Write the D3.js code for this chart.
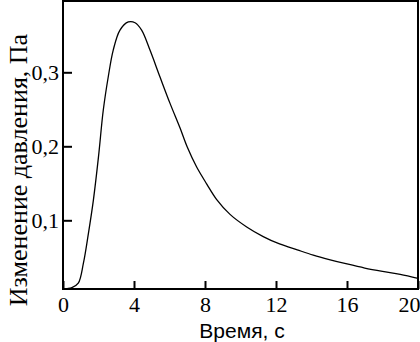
<!DOCTYPE html>
<html>
<head>
<meta charset="utf-8">
<script src="https://cdn.jsdelivr.net/npm/d3@7"></script>
<style>
html,body{margin:0;padding:0;background:#fff;}
svg{display:block;}
.serif{font-family:"Liberation Serif","Times New Roman",Times,"DejaVu Serif",serif;}
.sans{font-family:"Liberation Sans",Arial,"DejaVu Sans",sans-serif;}
</style>
</head>
<body>
<svg id="chart" width="420" height="342"></svg>
<script>
const timeSec = [0, 0.5, 0.86, 1.15, 1.43, 1.71, 2.0, 2.27, 2.55, 2.83, 3.21, 3.68, 4.06, 4.43, 4.9, 5.46, 6.03, 6.59, 7.0, 7.53, 8.1, 8.66, 9.41, 10.35, 11.28, 12.2, 13.2, 14.1, 15.0, 16.0, 17.0, 18.0, 19.0, 20.0];
const pressure = [0.007, 0.009, 0.015, 0.042, 0.082, 0.127, 0.186, 0.249, 0.294, 0.330, 0.357, 0.368, 0.367, 0.357, 0.330, 0.294, 0.258, 0.225, 0.199, 0.172, 0.149, 0.128, 0.108, 0.091, 0.078, 0.068, 0.060, 0.053, 0.047, 0.041, 0.0355, 0.031, 0.027, 0.0216];
const xTicks = [0, 4, 8, 12, 16, 20];
const yTicks = [0.1, 0.2, 0.3];
const xTitle = "Время, с";
const yTitle = "Изменение давления, Па";

const svg = d3.select("#chart");
const L = 63, R = 418, T = 1, B = 289;
const x = d3.scaleLinear().domain([0, 20]).range([L, R]);
const y = d3.scaleLinear().domain([0, 0.4]).range([294.3, -1.7]);

svg.append("rect").attr("x", L).attr("y", T).attr("width", R - L).attr("height", B - T)
  .attr("fill", "none").attr("stroke", "#000").attr("stroke-width", 2);

const data = timeSec.map((t, i) => [t, pressure[i]]);
const line = d3.line().x(d => x(d[0])).y(d => y(d[1])).curve(d3.curveCatmullRom.alpha(0.5));
svg.append("path").datum(data).attr("d", line).attr("fill", "none")
  .attr("stroke", "#000").attr("stroke-width", 1.3);

const xAxis = svg.append("g").attr("transform", `translate(0,${B})`)
  .call(d3.axisBottom(x).tickValues(xTicks).tickSizeInner(-8).tickSizeOuter(0).tickPadding(7).tickFormat(d3.format("d")));
const yAxis = svg.append("g").attr("transform", `translate(${L},0)`)
  .call(d3.axisLeft(y).tickValues(yTicks).tickSizeInner(-9).tickSizeOuter(0).tickPadding(4)
    .tickFormat(d => d3.format(".1f")(d).replace(".", ",")));
[xAxis, yAxis].forEach(g => {
  g.attr("font-family", null).attr("font-size", null);
  g.select(".domain").remove();
  g.selectAll(".tick line").attr("stroke", "#000").attr("stroke-width", 2);
  g.selectAll(".tick text").attr("fill", "#000").attr("class", "serif").style("font-size", "22px");
});
xAxis.selectAll(".tick text").filter(d => d === 20).attr("text-anchor", "end").attr("x", 420 - x(20));

svg.append("text").attr("class", "sans").attr("x", 242).attr("y", 338).attr("text-anchor", "middle")
  .style("font-size", "21px").attr("fill", "#000").text(xTitle);

svg.append("text").attr("class", "serif").attr("transform", "translate(26.5,170) rotate(-90)").attr("text-anchor", "middle")
  .style("font-size", "26px").attr("fill", "#000").text(yTitle);
</script>
</body>
</html>
